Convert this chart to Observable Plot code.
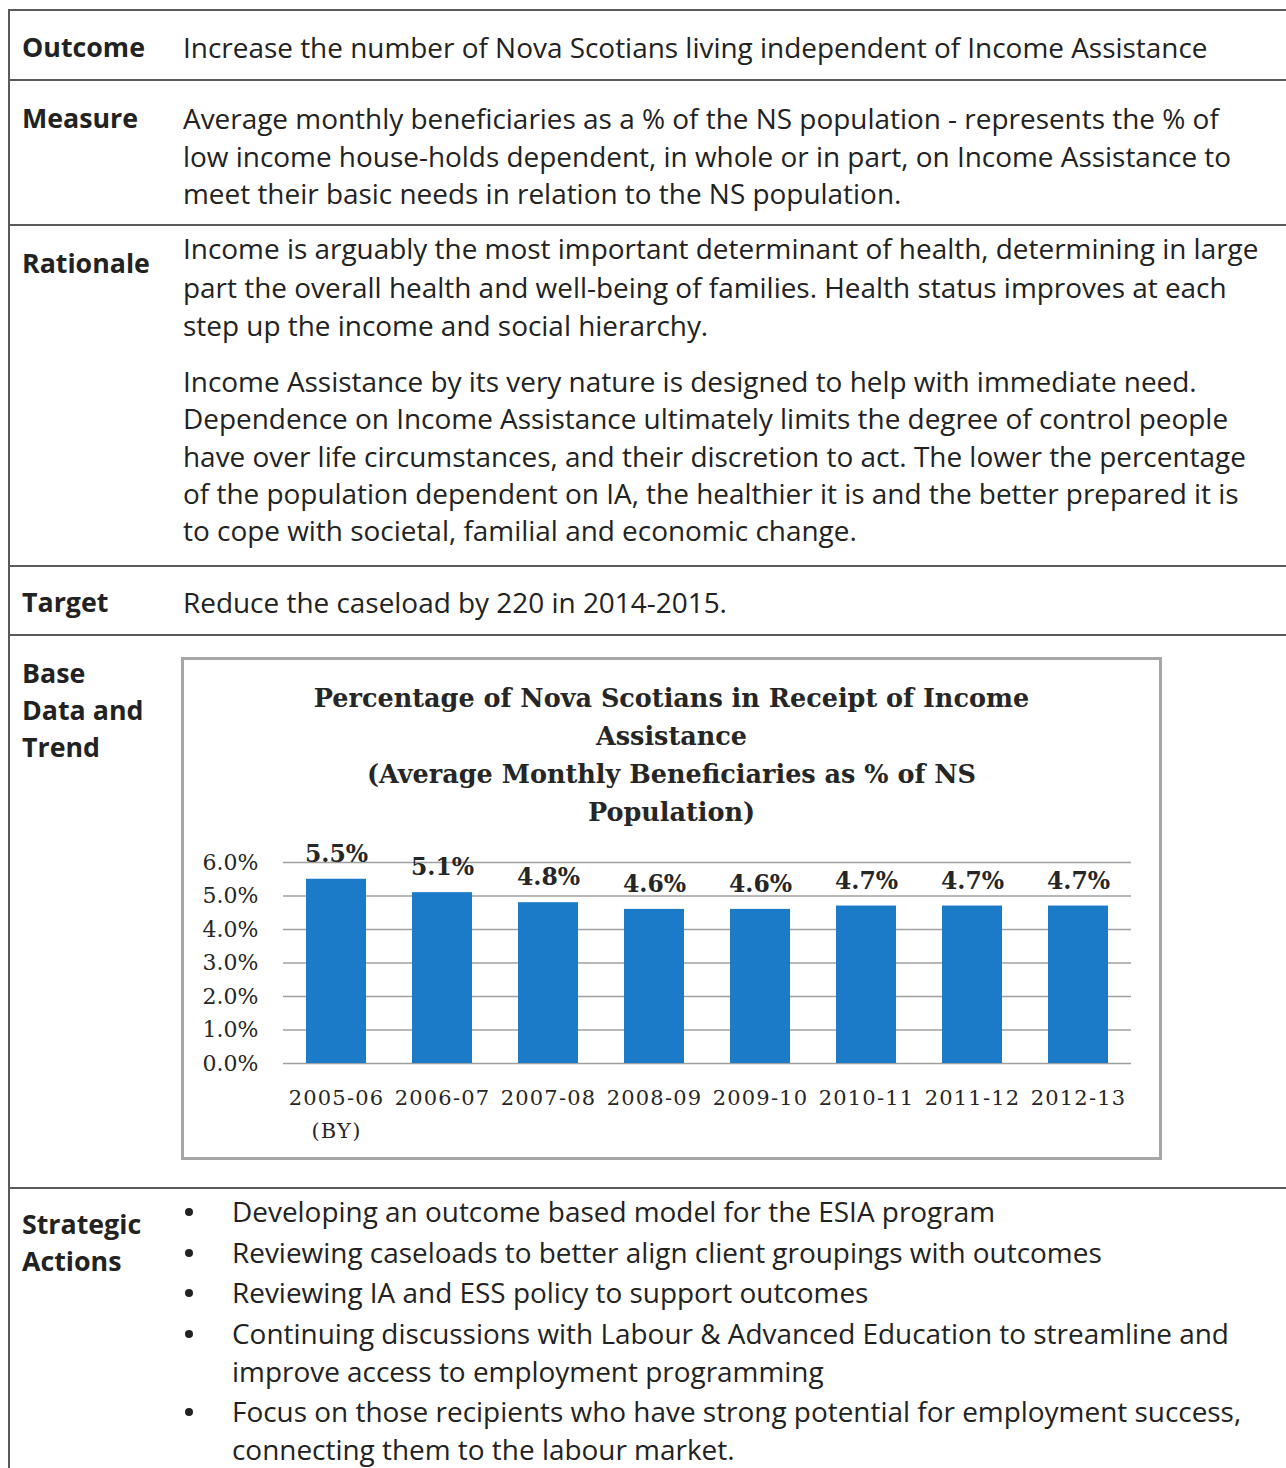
<!DOCTYPE html>
<html>
<head>
<meta charset="utf-8">
<script src="https://cdn.jsdelivr.net/npm/d3@7"></script>
<script src="https://cdn.jsdelivr.net/npm/@observablehq/plot@0.6"></script>
<style>
  html, body { margin: 0; padding: 0; background: #fff; }
  #page { position: relative; width: 1286px; height: 1468px; overflow: hidden; background: #fff; }
  .t { position: absolute; white-space: nowrap; font-family: "Open Sans", "Noto Sans", sans-serif; font-size: 25px; color: #222; line-height: 38px; }
  .b { font-weight: 700; }
  .hl { position: absolute; left: 8px; right: 0; height: 2px; background: #5a5a5a; }
  .vl { position: absolute; top: 10px; bottom: 0; width: 2px; background: #5a5a5a; left: 8px; }
  #frame { position: absolute; left: 181px; top: 657px; width: 981px; height: 503px; box-sizing: border-box; border: 3px solid #a6a6a6; background: #fff; }
  #ctitle { position: absolute; left: 0; right: 0; top: 19px; text-align: center; font-family: "DejaVu Serif", serif; font-weight: 700; font-size: 25.5px; line-height: 38px; color: #262626; }
  #chart { position: absolute; left: 0; top: 182px; }
  .bullet { position: absolute; width: 8px; height: 8px; border-radius: 50%; background: #222; }
</style>
</head>
<body>
<div id="page"></div>
<script>
// ---- Data ----
const outcomeText = ["Increase the number of Nova Scotians living independent of Income Assistance"];
const measureText = [
  "Average monthly beneficiaries as a % of the NS population - represents the % of",
  "low income house-holds dependent, in whole or in part, on Income Assistance to",
  "meet their basic needs in relation to the NS population."
];
const rationaleText = [
  "Income is arguably the most important determinant of health, determining in large",
  "part the overall health and well-being of families. Health status improves at each",
  "step up the income and social hierarchy."
];
const rationaleText2 = [
  "Income Assistance by its very nature is designed to help with immediate need.",
  "Dependence on Income Assistance ultimately limits the degree of control people",
  "have over life circumstances, and their discretion to act. The lower the percentage",
  "of the population dependent on IA, the healthier it is and the better prepared it is",
  "to cope with societal, familial and economic change."
];
const targetText = ["Reduce the caseload by 220 in 2014-2015."];
const actions = [
  ["Developing an outcome based model for the ESIA program"],
  ["Reviewing caseloads to better align client groupings with outcomes"],
  ["Reviewing IA and ESS policy to support outcomes"],
  ["Continuing discussions with Labour & Advanced Education to streamline  and", "improve access to employment programming"],
  ["Focus on those recipients who have strong potential for employment success,", "connecting them to the labour market."]
];
const chartTitle = [
  "Percentage of Nova Scotians in Receipt of Income",
  "Assistance",
  "(Average Monthly Beneficiaries as % of NS",
  "Population)"
];
const years = ["2005-06\n(BY)", "2006-07", "2007-08", "2008-09", "2009-10", "2010-11", "2011-12", "2012-13"];
const shares = [5.5, 5.1, 4.8, 4.6, 4.6, 4.7, 4.7, 4.7];
const yTicks = [0, 1, 2, 3, 4, 5, 6];

// ---- Font fitting (match text widths of the reference page) ----
const fam = '"Open Sans", "Noto Sans", sans-serif';
const cv = document.createElement("canvas").getContext("2d");
function fit(text, weight, target) {
  cv.font = `${weight} 100px ${fam}`;
  return 100 * target / cv.measureText(text).width;
}
const bodySize = fit(outcomeText[0], 400, 1025);
const labelSize = fit("Outcome", 700, 123);

// ---- Layout helpers ----
const page = document.getElementById("page");
function addLine(x, cy, text, bold) {
  const d = document.createElement("div");
  d.className = "t" + (bold ? " b" : "");
  d.style.left = x + "px";
  d.style.top = (cy - 19) + "px";
  d.style.fontSize = (bold ? labelSize : bodySize) + "px";
  d.textContent = text;
  page.appendChild(d);
  return d;
}
function hline(y) {
  const d = document.createElement("div");
  d.className = "hl"; d.style.top = (y - 1) + "px";
  page.appendChild(d);
}
const vl = document.createElement("div"); vl.className = "vl"; page.appendChild(vl);
[10, 80, 225, 566, 635, 1188].forEach(hline);

// left labels
addLine(22, 47, "Outcome", true);
addLine(22, 118, "Measure", true);
addLine(22, 263, "Rationale", true);
addLine(22, 602, "Target", true);
["Base", "Data and", "Trend"].forEach((s, i) => addLine(22, 673 + i * 37, s, true));
["Strategic", "Actions"].forEach((s, i) => addLine(22, 1224 + i * 37, s, true));

// content
const cx = 183;
outcomeText.forEach(s => addLine(cx, 47, s));
measureText.forEach((s, i) => addLine(cx, 118 + i * 37.5, s));
rationaleText.forEach((s, i) => addLine(cx, 248 + i * 38.5, s));
rationaleText2.forEach((s, i) => addLine(cx, 381 + i * 37.3, s));
targetText.forEach(s => addLine(cx, 602, s));
let by = 1211;
actions.forEach(item => {
  const bl = document.createElement("div");
  bl.className = "bullet"; bl.style.left = "185px"; bl.style.top = (by - 3) + "px";
  page.appendChild(bl);
  item.forEach((s, j) => addLine(232, by + j * 38, s));
  by += (item.length - 1) * 38 + 40.5;
});

// chart frame
const frame = document.createElement("div"); frame.id = "frame"; page.appendChild(frame);
const ct = document.createElement("div"); ct.id = "ctitle";
ct.innerHTML = chartTitle.join("<br>");
frame.appendChild(ct);

const data = years.map((y, i) => ({year: y, value: shares[i]}));
const serif = "'DejaVu Serif', serif";
const chart = Plot.plot({
  width: 975,
  height: 313,
  marginLeft: 99,
  marginRight: 28,
  marginTop: 20,
  marginBottom: 92,
  style: {background: "transparent", fontFamily: serif, color: "#262626", overflow: "visible"},
  x: {domain: years, paddingInner: 0.43, paddingOuter: 0.215, label: null, axis: null},
  y: {domain: [0, 6], label: null, axis: null},
  marks: [
    Plot.ruleY(yTicks, {stroke: "#a0a0a0", strokeWidth: 1.6}),
    Plot.barY(data, {x: "year", y: "value", fill: "#1c7bc9"}),
    Plot.text(data, {x: "year", y: "value", text: d => d.value.toFixed(1) + "%", dy: -25, fontWeight: "bold", fontSize: 23.5, fill: "#262626", fontFamily: serif}),
    Plot.axisY({ticks: yTicks, tickSize: 0, tickPadding: 25, tickFormat: d => d.toFixed(1) + "%", fontSize: 22, fill: "#262626", fontFamily: serif, label: null, style: {letterSpacing: "0.8px"}}),
    Plot.axisX({tickSize: 0, tickPadding: 18, fontSize: 21, fill: "#262626", fontFamily: serif, lineHeight: 1.57, label: null})
  ]
});
chart.id = "chart";
chart.querySelectorAll("g[aria-label='x-axis tick label'] text").forEach(t => t.style.letterSpacing = "1.2px");
frame.appendChild(chart);
</script>
</body>
</html>
